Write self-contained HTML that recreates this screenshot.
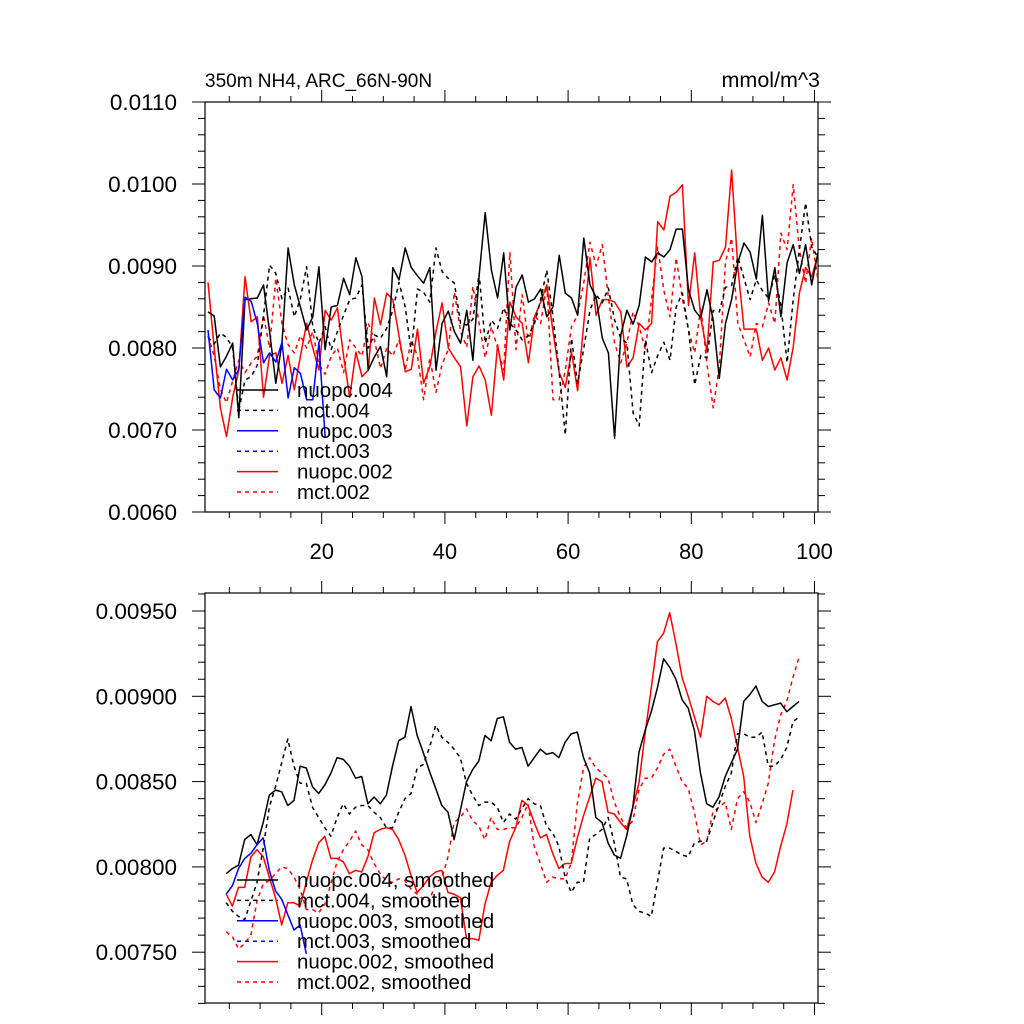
<!DOCTYPE html>
<html><head><meta charset="utf-8"><style>
html,body{margin:0;padding:0;background:#fff;}
svg{display:block;font-family:"Liberation Sans",sans-serif;}
</style></head><body>
<svg id="chart" width="1024" height="1024" viewBox="0 0 1024 1024" xmlns="http://www.w3.org/2000/svg">
<rect width="1024" height="1024" fill="#fff"/>
<text x="205" y="87" font-size="19">350m NH4, ARC_66N-90N</text>
<text x="820" y="87" font-size="21.5" text-anchor="end">mmol/m^3</text>
<g id="top"></g><g id="bot"></g>
</svg>
<script>
// ---- data (values in 1e-5 mmol/m^3) ----
const topLabels = ["0.0060","0.0070","0.0080","0.0090","0.0100","0.0110"];
const topTickVals = [600,700,800,900,1000,1100];
const botLabels = ["0.00750","0.00800","0.00850","0.00900","0.00950"];
const botTickVals = [750,800,850,900,950];
const xTickVals = [20,40,60,80,100];
const xTickLabels = ["20","40","60","80","100"];
const nuopc004 = [844,839,777,790,806,715,859,860,861,877,820,757,806,922,877,850,822,838,899,798,850,852,885,865,910,887,773,789,802,765,898,883,922,898,888,879,898,773,830,845,820,806,846,785,888,965,895,861,916,822,874,889,856,860,872,838,850,913,867,861,840,934,877,862,812,794,690,816,846,829,852,911,905,916,911,920,945,945,871,846,837,871,834,763,830,859,904,928,917,884,962,857,898,838,904,926,891,926,877,916];
const mct004 = [813,805,818,813,800,724,761,765,779,840,901,891,860,873,838,860,899,826,806,826,798,820,840,859,861,877,800,816,812,824,846,880,850,795,872,868,856,922,893,885,879,830,828,835,891,806,834,824,849,830,822,810,815,830,859,895,838,770,694,812,757,800,846,865,855,873,834,812,806,721,705,810,770,791,807,785,850,867,822,755,791,788,846,844,874,876,911,885,859,883,870,861,889,852,782,859,920,977,923,911];
const nuopc003 = [822,749,739,774,761,774,862,857,830,782,794,783,807,739,776,769,737,737,807,692];
const nuopc002 = [880,800,727,692,740,773,887,832,838,740,791,794,757,791,749,790,830,800,773,846,834,849,790,740,795,765,773,861,828,867,859,815,771,774,823,757,777,820,855,800,788,777,705,765,778,761,718,804,761,856,838,830,782,838,856,877,820,770,752,795,748,830,910,840,859,859,856,844,777,788,830,822,830,954,944,985,990,999,852,916,837,795,905,907,923,1017,899,823,823,823,785,800,773,788,761,801,867,898,887,913];
const mct002 = [815,790,750,733,760,785,770,782,790,840,800,885,830,804,794,815,800,820,780,768,790,800,770,810,800,790,830,810,775,800,790,810,773,810,790,737,788,746,780,798,868,820,801,875,830,788,826,800,773,917,798,865,806,840,830,877,737,737,773,826,840,880,929,900,926,862,806,782,806,844,826,798,860,923,870,838,910,860,822,794,850,780,727,777,905,934,830,810,789,830,826,855,830,940,920,999,920,879,934,883];
const sNuopc004 = [796,799,801,816,819,813,826,842,845,844,836,839,859,858,847,843,848,855,864,863,859,852,853,837,841,837,842,859,874,876,894,877,867,856,846,836,832,816,833,850,857,862,877,874,887,888,873,869,870,859,864,869,866,867,864,873,878,879,864,855,829,826,814,807,805,818,835,867,880,891,905,922,917,910,898,893,880,855,837,835,841,853,861,869,897,901,906,897,894,895,896,891,894,897];
const sMct004 = [779,774,771,769,780,791,811,835,847,861,875,859,849,849,835,829,823,818,829,837,831,835,836,836,832,829,823,823,832,840,843,858,860,870,883,876,873,869,864,849,842,836,838,838,835,826,831,828,834,840,837,836,824,820,812,794,785,791,791,817,819,822,829,814,794,793,778,774,773,771,791,811,811,809,807,806,814,815,815,826,837,847,855,878,878,876,876,879,859,859,863,870,885,888];
const sNuopc003 = [784,789,799,805,808,813,817,798,786,781,772,763,766,749];
const sNuopc002 = [784,777,788,788,806,810,806,794,782,766,779,779,777,791,804,814,818,805,805,803,796,798,797,806,820,822,823,822,816,807,795,785,789,794,797,798,785,784,782,758,758,757,778,791,795,798,815,823,839,836,826,817,819,808,799,802,802,817,830,841,852,850,832,831,826,822,835,849,878,905,932,937,949,931,911,900,888,876,900,897,895,899,887,870,853,818,802,794,791,797,812,825,845];
const sMct002 = [762,759,752,755,760,780,790,792,796,800,799,794,787,775,775,773,778,790,803,810,815,821,813,810,802,796,792,791,793,792,787,784,781,780,791,793,806,826,829,834,827,824,816,829,822,822,823,823,829,837,812,802,791,794,793,793,802,837,858,864,858,855,852,838,829,823,827,845,852,852,858,866,869,859,850,846,832,813,815,832,835,838,822,840,844,838,826,837,849,874,889,897,911,923];
const topLegend = ["nuopc.004","mct.004","nuopc.003","mct.003","nuopc.002","mct.002"];
const botLegend = ["nuopc.004, smoothed","mct.004, smoothed","nuopc.003, smoothed","mct.003, smoothed","nuopc.002, smoothed","mct.002, smoothed"];
const legColors = ["#000","#000","#00f","#00f","#f00","#f00"];
const legDash = [false,true,false,true,false,true];

const NS="http://www.w3.org/2000/svg";
const L=205,R=818;
function xs(v){return 321.7+(v-20)*6.16;}
function ysT(v){return 102+(1100-v)*0.82;}
function ysB(v){return 611+(950-v)*1.706;}
function mk(tag,parent,attrs){const e=document.createElementNS(NS,tag);for(const k in attrs)e.setAttribute(k,attrs[k]);parent.appendChild(e);return e;}

function frame(g,top,bot,minV,maxV,ys,major,minorStep,labels,majorVals,showX){
  const f=mk('rect',g,{x:L,y:top,width:R-L,height:bot-top,fill:'none',stroke:'#000','stroke-width':1.2});
  
  
  for(let v=minV;v<=maxV+0.01;v+=minorStep){
    const y=ys(v);
    const isMaj=majorVals.some(m=>Math.abs(m-v)<0.01);
    const len=isMaj?13:7;
    const t1=mk('line',g,{x1:L-len,x2:L,y1:y,y2:y,stroke:'#000','stroke-width':1});
    
    
    const t2=mk('line',g,{x1:R,x2:R+len,y1:y,y2:y,stroke:'#000','stroke-width':1});
    
    
  }
  majorVals.forEach((v,i)=>{
    const t=mk('text',g,{x:177,y:ys(v)+8,'font-size':22.5,'text-anchor':'end'});
    t.textContent=labels[i];
    
    
  });
  for(let v=5;v<=100;v+=5){
    const x=xs(v);const isMaj=v%20===0;const len=isMaj?12:6;
    const a=mk('line',g,{x1:x,x2:x,y1:top-len,y2:top,stroke:'#000','stroke-width':1});
    
    
    const b=mk('line',g,{x1:x,x2:x,y1:bot,y2:bot+len,stroke:'#000','stroke-width':1});
    
    
  }
  if(showX){
    xTickVals.forEach((v,i)=>{
      const t=mk('text',g,{x:xs(v),y:bot+47,'font-size':22,'text-anchor':'middle'});
      t.textContent=xTickLabels[i];
      
      
    });
  }
}
function series(g,vals,x0,ys,color,dash,name){
  const pts=vals.map((v,i)=>xs(x0+i).toFixed(1)+','+ys(v).toFixed(1)).join(' ');
  const p=mk('polyline',g,{points:pts,fill:'none',stroke:color,'stroke-width':1.5,'stroke-linejoin':'round'});
  if(dash)p.setAttribute('stroke-dasharray','4 4');
  
  
}
function legend(g,names,y0){
  names.forEach((n,i)=>{
    const y=y0+i*20.4;
    const l=mk('line',g,{x1:237,x2:278,y1:y,y2:y,stroke:legColors[i],'stroke-width':1.5});
    if(legDash[i])l.setAttribute('stroke-dasharray','4 4');
    
    
    const t=mk('text',g,{x:297,y:y+7,'font-size':20.5});
    t.textContent=n;
    
    
  });
}
const gt=document.getElementById('top');


frame(gt,102,512,600,1100,ysT,true,20,topLabels,topTickVals,true);
series(gt,mct002,1.55,ysT,'#f00',true,'series-mct-002');
series(gt,nuopc002,1.55,ysT,'#f00',false,'series-nuopc-002');
series(gt,mct004,1.55,ysT,'#000',true,'series-mct-004');
series(gt,nuopc004,1.55,ysT,'#000',false,'series-nuopc-004');
series(gt,nuopc003,1.55,ysT,'#00f',false,'series-nuopc-003');
legend(gt,topLegend,390);

const gb=document.getElementById('bot');


frame(gb,593,1003,720,960,ysB,true,10,botLabels,botTickVals,false);
series(gb,sMct002,4.5,ysB,'#f00',true,'smoothed-mct-002');
series(gb,sNuopc002,4.5,ysB,'#f00',false,'smoothed-nuopc-002');
series(gb,sMct004,4.5,ysB,'#000',true,'smoothed-mct-004');
series(gb,sNuopc004,4.5,ysB,'#000',false,'smoothed-nuopc-004');
series(gb,sNuopc003,4.5,ysB,'#00f',false,'smoothed-nuopc-003');
legend(gb,botLegend,880);
</script>
</body></html>
